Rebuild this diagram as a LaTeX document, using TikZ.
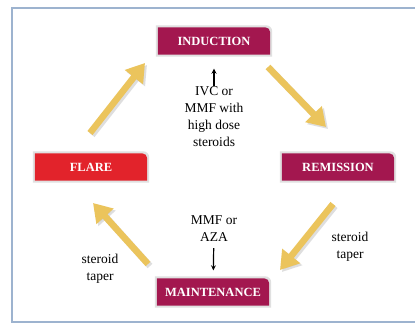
\documentclass[tikz,border=0pt]{standalone}
\usepackage{fontspec}
\setmainfont{Liberation Serif}
\usetikzlibrary{arrows.meta}
\definecolor{plum}{HTML}{A3174F}
\definecolor{flarered}{HTML}{E2232B}
\definecolor{gold}{HTML}{EBC45C}
\definecolor{framecol}{HTML}{9DB3CF}
\tikzset{
  stage/.style={minimum width=112pt,minimum height=27pt,inner sep=0pt,text=white,
    font=\fontsize{12.5}{13}\selectfont\bfseries},
  note/.style={align=center,font=\fontsize{13.5}{17}\selectfont,inner sep=1pt},
  cycle/.style={line width=6.5pt,draw=gold,-{Triangle[width=22pt,length=18pt]}},
  shade/.style={line width=6.5pt,draw=black!25,-{Triangle[width=22pt,length=18pt]},opacity=0.5}
}
\newcommand{\tabfill}[2]{%
  \fill[black!12] ([shift={(-2pt,-2pt)}]#1.south west) -- ([shift={(-2pt,2pt)}]#1.north west)
    [rounded corners=6pt] -- ([shift={(2pt,2pt)}]#1.north east) [rounded corners=0pt]
    -- ([shift={(2pt,-2pt)}]#1.south east) -- cycle;
  \fill[#2] (#1.south west) -- (#1.north west) [rounded corners=5pt] -- (#1.north east)
    [rounded corners=0pt] -- (#1.south east) -- cycle;}
\begin{document}
\begin{tikzpicture}[x=1pt,y=1pt,>=stealth]
\useasboundingbox (0,0) rectangle (415,327);
\fill[white] (0,0) rectangle (415,327);
\draw[framecol,line width=1.5pt] (415,319) -- (12,319) -- (12,5) -- (415,5);
\node[stage] (IND) at (214,286) {};
\node[stage] (FLR) at (91,160) {};
\node[stage] (REM) at (338,160) {};
\node[stage] (MNT) at (213,35) {};
\tabfill{IND}{plum}
\tabfill{FLR}{flarered}
\tabfill{REM}{plum}
\tabfill{MNT}{plum}
\node[stage] at (IND) {INDUCTION};
\node[stage] at (FLR) {FLARE};
\node[stage] at (REM) {REMISSION};
\node[stage] at (MNT) {MAINTENANCE};
\node[note] (IVC) at (214,210) {IVC or\\MMF with\\high dose\\steroids};
\node[note] (AZA) at (214,98) {MMF or\\AZA};
\node[note] (TL) at (100,58) {steroid\\taper};
\node[note] (TR) at (350,80) {steroid\\taper};
\coordinate (A1s) at (90,194);
\coordinate (A1e) at (145,264);
\coordinate (A2s) at (268,260);
\coordinate (A2e) at (326,200);
\coordinate (A3s) at (333,123);
\coordinate (A3e) at (280,57);
\coordinate (A4s) at (148,63);
\coordinate (A4e) at (93,124);
\draw[shade] ([shift={(2,-2)}]A1s) -- ([shift={(2,-2)}]A1e);
\draw[shade] ([shift={(2,-2)}]A2s) -- ([shift={(2,-2)}]A2e);
\draw[shade] ([shift={(2,-2)}]A3s) -- ([shift={(2,-2)}]A3e);
\draw[shade] ([shift={(2,-2)}]A4s) -- ([shift={(2,-2)}]A4e);
\draw[cycle] (A1s) -- (A1e);
\draw[cycle] (A2s) -- (A2e);
\draw[cycle] (A3s) -- (A3e);
\draw[cycle] (A4s) -- (A4e);
\draw[->,line width=1.2pt,shorten >=14pt] (IVC) -- (IND);
\draw[->,line width=1.2pt,shorten <=5pt,shorten >=8pt] (AZA) -- (MNT);
\end{tikzpicture}
\end{document}
